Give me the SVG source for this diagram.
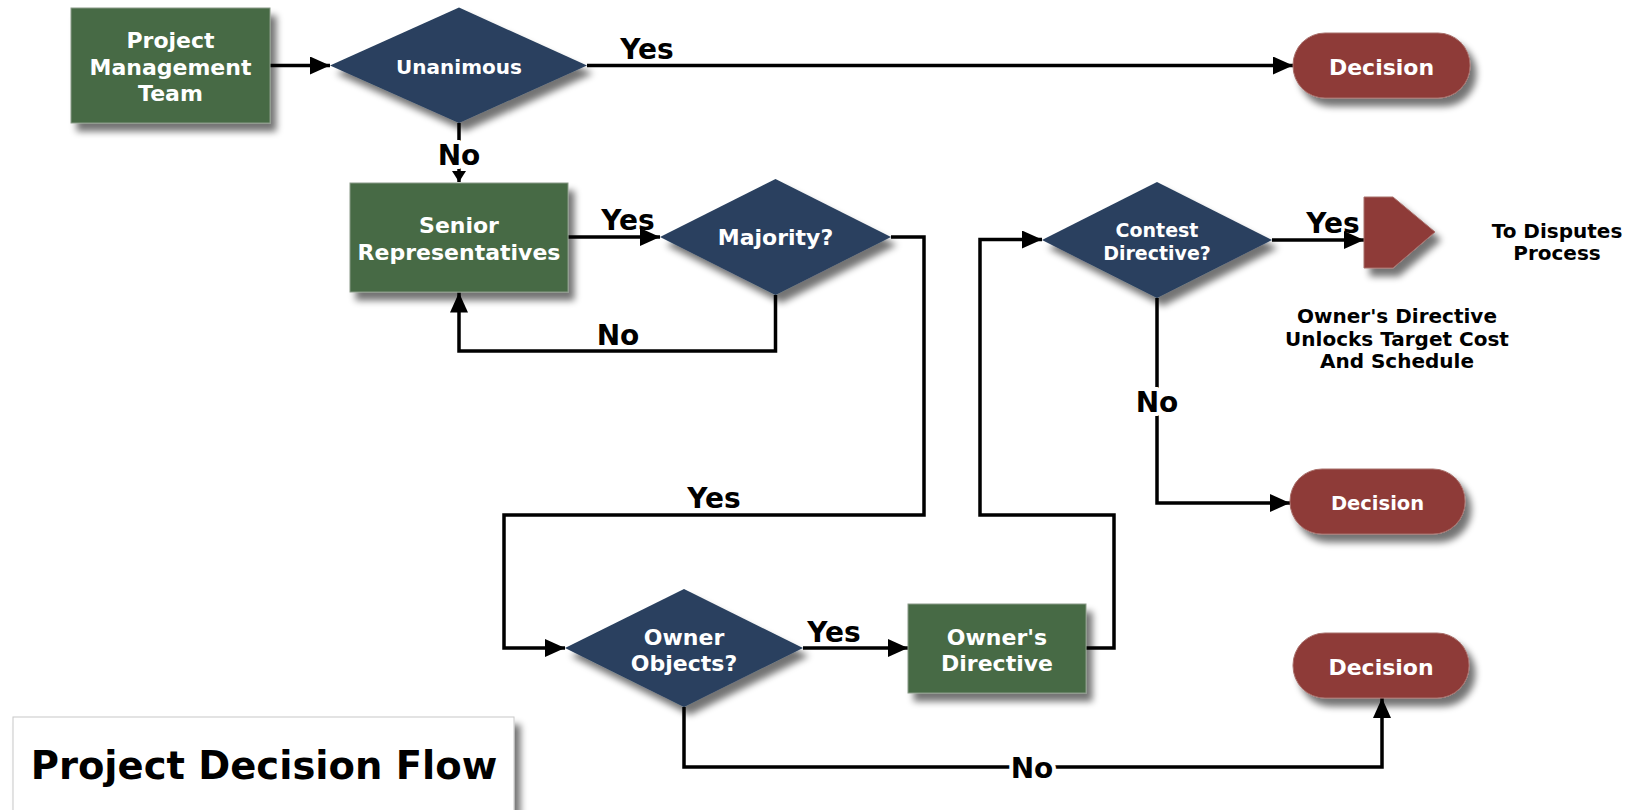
<svg xmlns="http://www.w3.org/2000/svg" width="1631" height="810" viewBox="0 0 1631 810">
  <style>
    .proc { fill: #466b44; stroke: #8a9a88; stroke-width: 1; }
    .dec { fill: #29405f; }
    .term { fill: #8e3b37; stroke: #a8706c; stroke-width: 1; }
    .nt { font-family: "DejaVu Sans", Verdana, sans-serif; font-weight: bold; fill: #ffffff; text-anchor: middle; }
    .lbl { font-family: "DejaVu Sans", Verdana, sans-serif; font-weight: bold; fill: #000000; text-anchor: middle; font-size: 28px; }
    .gap { paint-order: stroke; stroke: #ffffff; stroke-width: 8px; stroke-linejoin: round; }
    .note { font-family: "DejaVu Sans", Verdana, sans-serif; font-weight: bold; fill: #000000; text-anchor: middle; font-size: 20px; }
    .wire { fill: none; stroke: #000000; stroke-width: 3.5; stroke-linejoin: miter; }
  </style>
  <defs>
    <filter id="shadow" x="-20%" y="-20%" width="150%" height="160%">
      <feGaussianBlur in="SourceAlpha" stdDeviation="3.5"/>
      <feOffset dx="6" dy="8" result="off"/>
      <feComponentTransfer><feFuncA type="linear" slope="0.55"/></feComponentTransfer>
      <feMerge><feMergeNode/><feMergeNode in="SourceGraphic"/></feMerge>
    </filter>
    <marker id="arrow" markerUnits="userSpaceOnUse" markerWidth="20" markerHeight="18" refX="20" refY="9" orient="auto">
      <path d="M0,0 L20,9 L0,18 z" fill="#000000"/>
    </marker>
    <marker id="arrowSmall" markerUnits="userSpaceOnUse" markerWidth="11" markerHeight="14" refX="11" refY="7" orient="auto">
      <path d="M0,0 L11,7 L0,14 z" fill="#000000"/>
    </marker>
  </defs>

  <rect width="1631" height="810" fill="#ffffff"/>

  <!-- connectors -->
  <g id="connectors">
    <path class="wire" d="M270,65.5 H330" marker-end="url(#arrow)"/>
    <path class="wire" d="M587,65.5 H1293" marker-end="url(#arrow)"/>
    <path class="wire" d="M459,123 V182" marker-end="url(#arrowSmall)"/>
    <path class="wire" d="M568,237 H660" marker-end="url(#arrow)"/>
    <path class="wire" d="M775.5,295 V351 H459 V292.5" marker-end="url(#arrow)"/>
    <path class="wire" d="M891,237 H924 V515 H504 V648 H565" marker-end="url(#arrow)"/>
    <path class="wire" d="M803,648 H908" marker-end="url(#arrow)"/>
    <path class="wire" d="M1086,648 H1114 V515 H980 V239.5 H1042" marker-end="url(#arrow)"/>
    <path class="wire" d="M1272,240 H1364" marker-end="url(#arrow)"/>
    <path class="wire" d="M1157,298 V503 H1290" marker-end="url(#arrow)"/>
    <path class="wire" d="M684,707 V767 H1382 V698" marker-end="url(#arrow)"/>

    <text class="lbl" x="647" y="59">Yes</text>
    <text class="lbl gap" x="459" y="165">No</text>
    <text class="lbl" x="628" y="230">Yes</text>
    <text class="lbl" x="618" y="345">No</text>
    <text class="lbl" x="714" y="508">Yes</text>
    <text class="lbl" x="834" y="642">Yes</text>
    <text class="lbl" x="1333" y="233">Yes</text>
    <text class="lbl gap" x="1157" y="412">No</text>
    <text class="lbl gap" x="1032" y="778">No</text>
  </g>

  <!-- nodes -->
  <g id="pmt">
    <rect class="proc" x="71" y="8" width="199" height="115" filter="url(#shadow)"/>
    <text class="nt" font-size="22" x="170.5" y="48">Project</text>
    <text class="nt" font-size="22" x="170.5" y="75">Management</text>
    <text class="nt" font-size="22" x="170.5" y="101">Team</text>
  </g>

  <g id="unanimous">
    <polygon class="dec" points="330,65.5 459,7.5 587,65.5 459,123" filter="url(#shadow)"/>
    <text class="nt" font-size="20" x="459" y="74">Unanimous</text>
  </g>

  <g id="decision-top">
    <rect class="term" x="1293" y="33" width="177" height="65" rx="32" filter="url(#shadow)"/>
    <text class="nt" font-size="22" x="1381.5" y="74.5">Decision</text>
  </g>

  <g id="senior">
    <rect class="proc" x="350" y="183" width="218" height="109" filter="url(#shadow)"/>
    <text class="nt" font-size="22" x="459" y="233">Senior</text>
    <text class="nt" font-size="22" x="459" y="260">Representatives</text>
  </g>

  <g id="majority">
    <polygon class="dec" points="660,237 775.5,179 891,237 775.5,295" filter="url(#shadow)"/>
    <text class="nt" font-size="22" x="775.5" y="245">Majority?</text>
  </g>

  <g id="contest">
    <polygon class="dec" points="1042,240 1157,182 1272,240 1157,298" filter="url(#shadow)"/>
    <text class="nt" font-size="19" x="1157" y="237">Contest</text>
    <text class="nt" font-size="19" x="1157" y="260">Directive?</text>
  </g>

  <g id="disputes">
    <polygon class="term" points="1364,197 1393,197 1435,232 1393,268 1364,268" stroke="none" filter="url(#shadow)"/>
    <text class="note" x="1557" y="238">To Disputes</text>
    <text class="note" x="1557" y="260">Process</text>
  </g>

  <g id="directive-note">
    <text class="note" x="1397" y="323">Owner's Directive</text>
    <text class="note" x="1397" y="346">Unlocks Target Cost</text>
    <text class="note" x="1397" y="368">And Schedule</text>
  </g>

  <g id="decision-mid">
    <rect class="term" x="1290" y="469" width="175" height="65" rx="32" filter="url(#shadow)"/>
    <text class="nt" font-size="19.5" x="1377.5" y="510">Decision</text>
  </g>

  <g id="owner-objects">
    <polygon class="dec" points="565,648 684,589 803,648 684,707" filter="url(#shadow)"/>
    <text class="nt" font-size="22" x="684" y="645">Owner</text>
    <text class="nt" font-size="22" x="684" y="671">Objects?</text>
  </g>

  <g id="owners-directive">
    <rect class="proc" x="908" y="604" width="178" height="89" filter="url(#shadow)"/>
    <text class="nt" font-size="22" x="997" y="645">Owner's</text>
    <text class="nt" font-size="22" x="997" y="671">Directive</text>
  </g>

  <g id="decision-bottom">
    <rect class="term" x="1293" y="633" width="176" height="65" rx="32" filter="url(#shadow)"/>
    <text class="nt" font-size="22" x="1381" y="675">Decision</text>
  </g>

  <g id="title">
    <rect x="13" y="717" width="501" height="100" fill="#ffffff" stroke="#c8c8c8" stroke-width="1" filter="url(#shadow)"/>
    <text font-family="DejaVu Sans, Verdana, sans-serif" font-weight="bold" font-size="38.5" fill="#000000" text-anchor="middle" x="264" y="779">Project Decision Flow</text>
  </g>
</svg>
